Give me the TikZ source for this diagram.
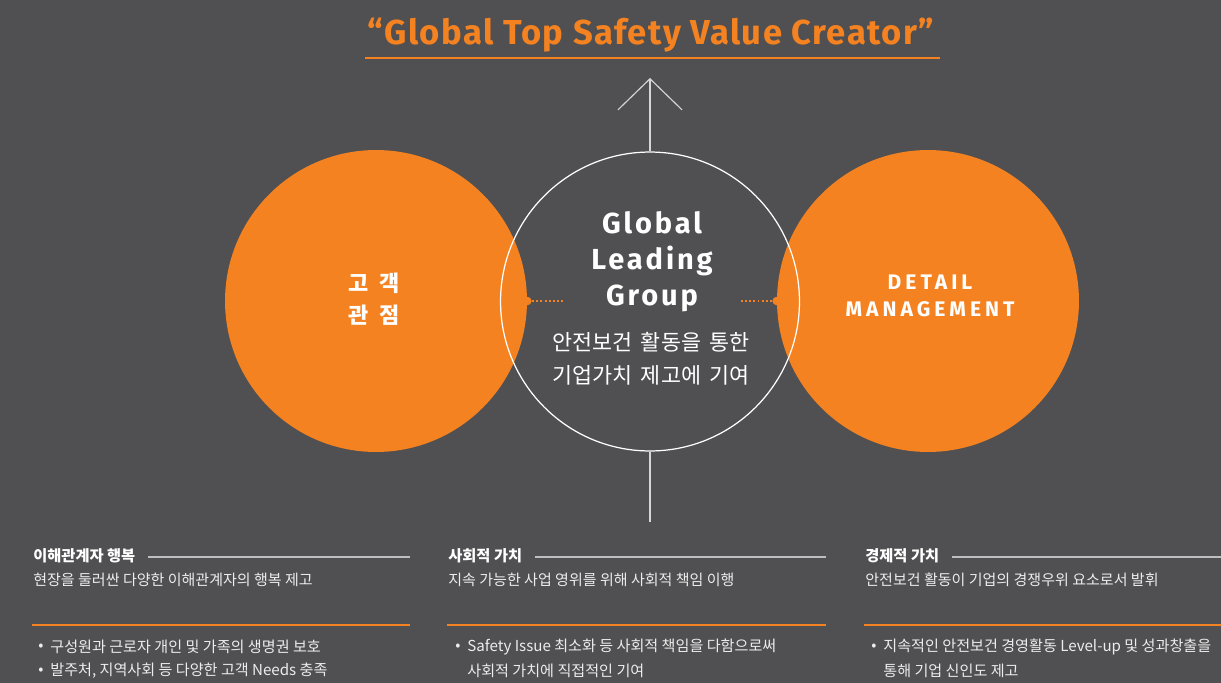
\documentclass[tikz,border=0pt]{standalone}
\usepackage{fontspec}
\setmainfont{Fira Sans}
\newfontfamily\kr{Noto Sans CJK KR}
\newfontfamily\titlefira[LetterSpace=4]{Fira Sans}
\newfontfamily\widefira[LetterSpace=10]{Fira Sans}
\newfontfamily\widerfira[LetterSpace=19]{Fira Sans}
\usepackage{xcolor}
\usetikzlibrary{arrows.meta}
\usetikzlibrary{calc}

\definecolor{safeorange}{HTML}{F58220}
\definecolor{stonegrey}{HTML}{505052}
\definecolor{rulegrey}{HTML}{BEBEBE}
\definecolor{stemgrey}{HTML}{D6D6D6}
\definecolor{paletext}{HTML}{ECECEC}

\tikzset{
  discnode/.style={circle, fill=safeorange, inner sep=0pt, minimum size=6.04cm},
  ringnode/.style={circle, draw=white, line width=0.7pt, inner sep=0pt, minimum size=5.98cm},
  bumpnode/.style={circle, fill=safeorange, inner sep=0pt, minimum size=0.17cm},
  disclabel/.style={text=white, align=center, inner sep=0pt},
  dotlink/.style={draw=safeorange, line width=1.1pt, dash pattern=on 1.1pt off 1.3pt},
  aimline/.style={draw=stemgrey, line width=0.65pt},
  orangerule/.style={draw=safeorange, line width=0.8pt},
  greyrule/.style={draw=rulegrey, line width=1pt},
  headtext/.style={text=white, font=\kr\bfseries\fontsize{8.7}{10}\selectfont, anchor=west, inner sep=0pt},
  subtext/.style={text=paletext, font=\kr\fontsize{8.55}{10}\selectfont, anchor=west, inner sep=0pt},
  dottext/.style={text=paletext, font=\kr\fontsize{8.6}{10}\selectfont, anchor=west, inner sep=0pt}
}

\begin{document}
\begin{tikzpicture}[x=0.02cm, y=-0.02cm]
        \newcommand{\gltcolgap}{7}
        \newcommand{\gltheady}{556}
        \newcommand{\gltsuby}{580}
        \newcommand{\gltorangey}{625}
        \newcommand{\gltbulletay}{647}
        \newcommand{\gltbulletby}{671}
        % backdrop
        \fill[stonegrey] (0,0) rectangle (1221,683);
        \useasboundingbox (0,0) rectangle (1221,683);
        % motto on top
        \node[text=safeorange, font=\titlefira\bfseries\fontsize{19.7}{22}\selectfont, inner sep=0pt] (motto) at (651,35) {“Global Top Safety Value Creator”};
        \coordinate (mottorulea) at (365,58);
        \coordinate (mottoruleb) at (940,58);
        \draw[orangerule] (mottorulea) -- (mottoruleb);
        % the three circles
        \node[discnode] (custdisc) at (376,301) {};
        \node[discnode] (detdisc) at (928,301) {};
        \node[ringnode] (glgring) at (650,301.5) {};
        \node[disclabel, font=\kr\bfseries\fontsize{12.5}{18}\selectfont] (custlabel) at (374,299) {고\hspace{0.5em}객\\관\hspace{0.5em}점};
        \node[disclabel, font=\widerfira\bfseries\fontsize{12}{15}\selectfont] (detlabel) at (930,296) {DETAIL\\MANAGEMENT};
        \node[disclabel, font=\widefira\bfseries\fontsize{16.5}{20.4}\selectfont] (glgname) at (652,262) {Global\\Leading\\Group};
        \node[disclabel, font=\kr\fontsize{12.4}{18.7}\selectfont] (glgdesc) at (651,359) {안전보건\hspace{0.15em} 활동을\hspace{0.15em} 통한\\기업가치\hspace{0.15em} 제고에\hspace{0.15em} 기여};
        % dotted links
        \node[bumpnode] (custbump) at (custdisc.east) {};
        \node[bumpnode] (detbump) at (detdisc.west) {};
        \coordinate (custdotend) at (565,301);
        \coordinate (detdotend) at (739,301);
        \draw[dotlink] (custbump) -- (custdotend);
        \draw[dotlink] (detbump) -- (detdotend);
        % up arrow and stem
        \coordinate (aimtop) at (650,78);
        \coordinate (stemend) at (650,522);
        \draw[aimline, -{Straight Barb[length=0.62cm, width=1.28cm]}] (glgring.north) -- (aimtop);
        \draw[aimline] (glgring.south) -- (stemend);
        % left column
        \node[headtext] (stakehead) at (33,\gltheady) {이해관계자 행복};
        \coordinate (stakeruleend) at (410,557);
        \draw[greyrule] ([xshift=\gltcolgap]stakehead.east |- stakeruleend) -- (stakeruleend);
        \node[subtext] (stakesub) at (33,\gltsuby) {현장을 둘러싼 다양한 이해관계자의 행복 제고};
        \coordinate (stakeorangea) at (32,\gltorangey);
        \coordinate (stakeorangeb) at (410,\gltorangey);
        \draw[orangerule] (stakeorangea) -- (stakeorangeb);
        \node[dottext] (stakedota) at (38,\gltbulletay) {•};
        \node[dottext] (stakeitema) at (50,\gltbulletay) {구성원과 근로자 개인 및 가족의 생명권 보호};
        \node[dottext] (stakedotb) at (38,\gltbulletby) {•};
        \node[dottext] (stakeitemb) at (50,\gltbulletby) {발주처, 지역사회 등 다양한 고객 Needs 충족};
        % middle column
        \node[headtext] (sochead) at (448,\gltheady) {사회적 가치};
        \coordinate (socruleend) at (826,557);
        \draw[greyrule] ([xshift=\gltcolgap]sochead.east |- socruleend) -- (socruleend);
        \node[subtext] (socsub) at (448,\gltsuby) {지속 가능한 사업 영위를 위해 사회적 책임 이행};
        \coordinate (socorangea) at (447,\gltorangey);
        \coordinate (socorangeb) at (826,\gltorangey);
        \draw[orangerule] (socorangea) -- (socorangeb);
        \node[dottext] (socdota) at (455,\gltbulletay) {•};
        \node[dottext] (socitema) at (467,\gltbulletay) {Safety Issue 최소화 등 사회적 책임을 다함으로써};
        \node[dottext] (socitemb) at (467,\gltbulletby) {사회적 가치에 직접적인 기여};
        % right column
        \node[headtext] (econhead) at (865,\gltheady) {경제적 가치};
        \coordinate (econruleend) at (1221,557);
        \draw[greyrule] ([xshift=\gltcolgap]econhead.east |- econruleend) -- (econruleend);
        \node[subtext] (econsub) at (865,\gltsuby) {안전보건 활동이 기업의 경쟁우위 요소로서 발휘};
        \coordinate (econorangea) at (864,\gltorangey);
        \coordinate (econorangeb) at (1221,\gltorangey);
        \draw[orangerule] (econorangea) -- (econorangeb);
        \node[dottext] (econdota) at (871,\gltbulletay) {•};
        \node[dottext] (econitema) at (883,\gltbulletay) {지속적인 안전보건 경영활동 Level-up 및 성과창출을};
        \node[dottext] (econitemb) at (883,\gltbulletby) {통해 기업 신인도 제고};
    \end{tikzpicture}
\end{document}
